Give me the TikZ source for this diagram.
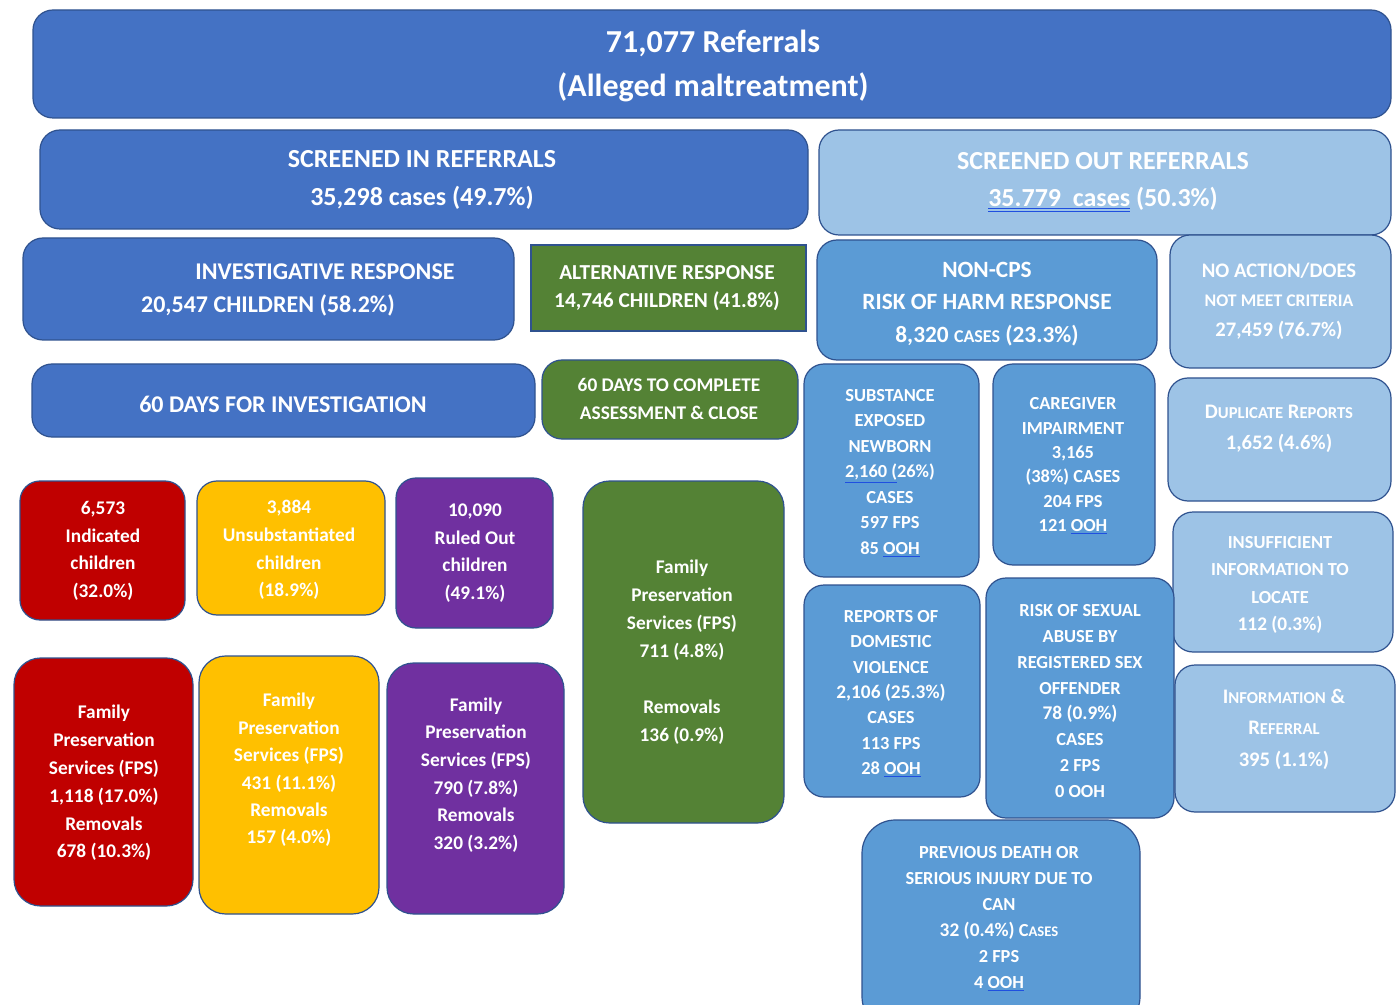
\documentclass[tikz,border=0pt]{standalone}
\usepackage{fontspec}
\setmainfont{Carlito}
\usetikzlibrary{fit}
\definecolor{dblue}{HTML}{4472C4}
\definecolor{mblue}{HTML}{5B9BD5}
\definecolor{lblue}{HTML}{9DC3E6}
\definecolor{gr}{HTML}{548235}
\definecolor{rd}{HTML}{C00000}
\definecolor{yl}{HTML}{FFC000}
\definecolor{pu}{HTML}{7030A0}
\definecolor{bord}{HTML}{2F528F}
\definecolor{ulblue}{HTML}{1F4FE0}
\newcommand\ul[1]{{\color{ulblue}\underline{\color{white}#1}}}
\newcommand\dul[1]{{\color{ulblue}\underline{\underline{\color{white}#1}}}}
\newcommand\fs[2]{\fontsize{#1}{#2}\selectfont}
\newcommand\mybox[6]{\node[bx,fill=#6,fit={(#2,#3) (#4,#5)}] (#1) {};}
\tikzset{
  bx/.style={draw=bord, line width=0.9pt, rounded corners=15pt, inner sep=0pt, outer sep=0pt},
  tx/.style={text=white, align=center, inner sep=0pt, execute at begin node=\bfseries}
}
\begin{document}
\begin{tikzpicture}[x=0.75pt,y=-0.75pt]
\useasboundingbox (0,0) rectangle (1399,1005);
\fill[white] (0,0) rectangle (1399,1005);
% boxes
\mybox{top}{33}{10}{1391}{118}{dblue}
\mybox{scin}{40}{130}{808}{229}{dblue}
\mybox{scout}{819}{130}{1391}{235}{lblue}
\mybox{inv}{23}{238}{514}{340}{dblue}
\node[bx,rounded corners=0pt,fill=gr,fit={(531,245) (806,331)}] (alt) {};
\mybox{noncps}{817}{240}{1157}{360}{mblue}
\mybox{noact}{1170}{235}{1391}{368}{lblue}
\mybox{dsixty}{32}{364}{535}{437}{dblue}
\mybox{dsixtyb}{542}{360}{798}{439}{gr}
\mybox{subst}{804}{364}{979}{577}{mblue}
\mybox{care}{993}{364}{1155}{565}{mblue}
\mybox{dup}{1168}{378}{1391}{501}{lblue}
\mybox{insuf}{1173}{512}{1393}{652}{lblue}
\mybox{dv}{804}{585}{980}{797}{mblue}
\mybox{rsa}{986}{578}{1174}{818}{mblue}
\mybox{info}{1175}{665}{1395}{812}{lblue}
\node[bx,rounded corners=25pt,fill=mblue,fit={(862,820) (1140,1030)}] (prev) {};
\mybox{redA}{20}{481}{185}{620}{rd}
\mybox{yelA}{197}{481}{385}{615}{yl}
\mybox{purA}{396}{478}{553}{628}{pu}
\node[bx,rounded corners=20pt,fill=gr,fit={(583,481) (784,823)}] (gfps) {};
\node[bx,rounded corners=20pt,fill=rd,fit={(14,658) (193,906)}] (redB) {};
\node[bx,rounded corners=20pt,fill=yl,fit={(199,656) (379,914)}] (yelB) {};
\node[bx,rounded corners=20pt,fill=pu,fit={(387,663) (564,914)}] (purB) {};
% texts
\node[tx,font=\fs{24}{33}] (top-t) at (713,66) {71,077 Referrals\\(Alleged maltreatment)};
\node[tx,font=\fs{19.5}{28}] (scin-t) at (422,180) {SCREENED IN REFERRALS\\35,298 cases (49.7\%)};
\node[tx,font=\fs{19.5}{28}] (scout-t) at (1103,182) {SCREENED OUT REFERRALS\\\dul{35.779\ \ cases} (50.3\%)};
\node[tx,font=\fs{18}{24}] (inv-a) at (325,272) {INVESTIGATIVE RESPONSE};
\node[tx,font=\fs{18}{24}] (inv-b) at (268,305) {20,547 CHILDREN (58.2\%)};
\node[tx,font=\fs{16}{21}] (alt-t) at (667,288) {ALTERNATIVE RESPONSE\\14,746 CHILDREN (41.8\%)};
\node[tx,font=\fs{17.5}{24.4}] (noncps-t) at (987,304) {NON-CPS\\RISK OF HARM RESPONSE\\8,320 {\fs{13.5}{24.4}CASES} (23.3\%)};
\node[tx,font=\fs{15.5}{22}] (noact-t) at (1279,301) {NO ACTION/DOES\\{\fs{13.3}{22}NOT MEET CRITERIA}\\27,459 (76.7\%)};
\node[tx,font=\fs{18}{24}] (dsixty-t) at (283,404) {60 DAYS FOR INVESTIGATION};
\node[tx,font=\fs{14.5}{21}] (dsixtyb-t) at (669,399) {60 DAYS TO COMPLETE\\ASSESSMENT \& CLOSE};
\node[tx,font=\fs{13.8}{19.1}] (subst-t) at (890,473) {SUBSTANCE\\EXPOSED\\NEWBORN\\\ul{2,160\ (}26\%)\\CASES\\597 FPS\\85 \ul{OOH}};
\node[tx,font=\fs{13.8}{18.3}] (care-t) at (1073,466) {CAREGIVER\\IMPAIRMENT\\3,165\\(38\%) CASES\\204 FPS\\121 \ul{OOH}};
\node[tx,font=\fs{15.5}{23}] (dup-t) at (1279,429) {D{\fs{12.5}{23}UPLICATE} R{\fs{12.5}{23}EPORTS}\\1,652 (4.6\%)};
\node[tx,font=\fs{13.8}{20.5}] (insuf-t) at (1280,585) {INSUFFICIENT\\INFORMATION TO\\LOCATE\\{\fs{14.5}{20.5}112 (0.3\%)}};
\node[tx,font=\fs{13.8}{19}] (dv-t) at (891,694) {REPORTS OF\\DOMESTIC\\VIOLENCE\\{\fs{14.5}{19}2,106 (25.3\%)}\\CASES\\113 FPS\\28 \ul{OOH}};
\node[tx,font=\fs{13.8}{19.3}] (rsa-t) at (1080,701) {RISK OF SEXUAL\\ABUSE BY\\REGISTERED SEX\\OFFENDER\\{\fs{14.5}{19.3}78 (0.9\%)}\\CASES\\2 FPS\\0 OOH};
\node[tx,font=\fs{15.5}{23.6}] (info-t) at (1284,729) {I{\fs{12.5}{23.6}NFORMATION} \&\\R{\fs{12.5}{23.6}EFERRAL}\\395 (1.1\%)};
\node[tx,font=\fs{13.8}{19.5}] (prev-t) at (999,919) {PREVIOUS DEATH OR\\SERIOUS INJURY DUE TO\\CAN\\{\fs{14.5}{19.5}32 (0.4\%)} C{\fs{11}{19.5}ASES}\\2 FPS\\4 \ul{OOH}};
\node[tx,font=\fs{14.5}{20.75}] (redA-t) at (103,551) {6,573\\Indicated\\children\\(32.0\%)};
\node[tx,font=\fs{14.5}{20.75}] (yelA-t) at (289,550) {3,884\\Unsubstantiated\\children\\(18.9\%)};
\node[tx,font=\fs{14.5}{20.75}] (purA-t) at (475,553) {10,090\\Ruled Out\\children\\(49.1\%)};
\node[tx,font=\fs{14.5}{21}] (gfps-t) at (682,652) {Family\\Preservation\\Services (FPS)\\711 (4.8\%)\\[21pt]Removals\\136 (0.9\%)};
\node[tx,font=\fs{14.5}{20.85}] (redB-t) at (104,783) {Family\\Preservation\\Services (FPS)\\1,118 (17.0\%)\\Removals\\678 (10.3\%)};
\node[tx,font=\fs{14.5}{20.55}] (yelB-t) at (289,770) {Family\\Preservation\\Services (FPS)\\431 (11.1\%)\\Removals\\157 (4.0\%)};
\node[tx,font=\fs{14.5}{20.7}] (purB-t) at (476,775) {Family\\Preservation\\Services (FPS)\\790 (7.8\%)\\Removals\\320 (3.2\%)};
\end{tikzpicture}
\end{document}
